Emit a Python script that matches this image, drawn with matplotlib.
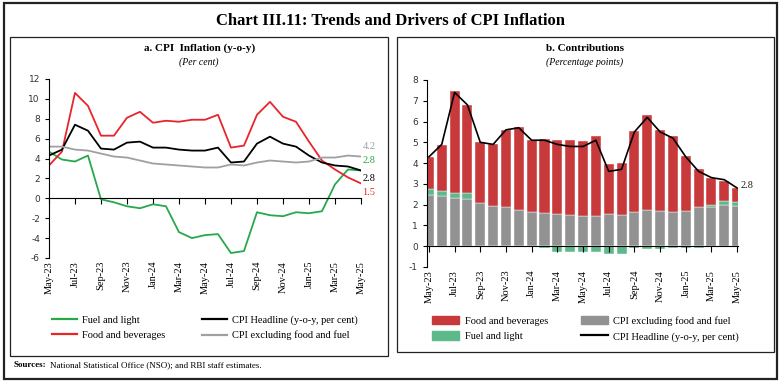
import numpy as np
import pandas as pd
import matplotlib
matplotlib.use('Agg')
import matplotlib.pyplot as plt
from matplotlib.patches import Rectangle, Patch
from matplotlib.lines import Line2D

plt.rcParams['font.family'] = ['Liberation Serif', 'DejaVu Serif']
plt.rcParams['axes.unicode_minus'] = False

months = pd.date_range('2023-05-01', periods=25, freq='MS').strftime('%b-%y').tolist()

# panel a: y-o-y inflation, per cent
fuel = [4.7, 3.9, 3.7, 4.3, -0.1, -0.4, -0.8, -1.0, -0.6, -0.8, -3.4, -4.0, -3.7,
        -3.6, -5.5, -5.3, -1.4, -1.7, -1.8, -1.4, -1.5, -1.3, 1.4, 2.9, 2.8]
food = [3.3, 4.7, 10.6, 9.3, 6.3, 6.3, 8.1, 8.7, 7.6, 7.8, 7.7, 7.9, 7.9,
        8.4, 5.1, 5.3, 8.4, 9.7, 8.2, 7.7, 5.7, 3.8, 2.9, 2.1, 1.5]
headline = [4.3, 4.9, 7.4, 6.8, 5.0, 4.9, 5.6, 5.7, 5.1, 5.1, 4.9, 4.8, 4.8,
            5.1, 3.6, 3.7, 5.5, 6.2, 5.5, 5.2, 4.3, 3.6, 3.3, 3.2, 2.8]
core = [5.2, 5.2, 4.9, 4.8, 4.5, 4.2, 4.1, 3.8, 3.5, 3.4, 3.3, 3.2, 3.1,
        3.1, 3.4, 3.3, 3.6, 3.8, 3.7, 3.6, 3.7, 4.1, 4.1, 4.3, 4.2]

# panel b: contributions, percentage points
c_core = [2.45, 2.4, 2.3, 2.25, 2.1, 1.95, 1.9, 1.75, 1.65, 1.6, 1.55, 1.5, 1.45,
          1.45, 1.55, 1.5, 1.65, 1.75, 1.7, 1.65, 1.7, 1.9, 1.9, 2.0, 1.92]
c_fuel = [0.3, 0.25, 0.25, 0.3, -0.02, -0.03, -0.05, -0.06, -0.04, -0.1, -0.27, -0.3, -0.27,
          -0.27, -0.38, -0.36, -0.1, -0.12, -0.13, -0.1, -0.1, -0.09, 0.1, 0.17, 0.2]
c_food = [1.55, 2.2, 4.9, 4.25, 2.9, 2.95, 3.7, 4.0, 3.45, 3.55, 3.55, 3.6, 3.6,
          3.85, 2.4, 2.5, 3.9, 4.55, 3.9, 3.65, 2.65, 1.8, 1.3, 0.98, 0.7]

x = np.arange(len(months))

RED = '#e8252b'
GREEN = '#27a84a'
GREY = '#a0a0a0'
BAR_RED = '#c8393c'
BAR_GREY = '#929292'
BAR_GREEN = '#5bb98a'

fig = plt.figure(figsize=(7.81, 3.83), dpi=100)

# frames
fig.patches.append(Rectangle((0.005, 0.01), 0.99, 0.982, transform=fig.transFigure,
                             fill=False, lw=1.6, ec='#222222'))
fig.patches.append(Rectangle((0.0128, 0.0705), 0.484, 0.833, transform=fig.transFigure,
                             fill=False, lw=0.9, ec='#222222'))
fig.patches.append(Rectangle((0.5083, 0.081), 0.4827, 0.822, transform=fig.transFigure,
                             fill=False, lw=0.9, ec='#222222'))

fig.text(0.5, 0.945, 'Chart III.11: Trends and Drivers of CPI Inflation',
         ha='center', va='center', fontsize=12, fontweight='bold')


def style_axis(ax, ylim, yticks):
    ax.set_ylim(*ylim)
    ax.set_yticks(yticks)
    for s in ['top', 'right']:
        ax.spines[s].set_visible(False)
    ax.spines['left'].set_linewidth(0.8)
    ax.spines['bottom'].set_position(('data', 0))
    ax.spines['bottom'].set_linewidth(0.8)
    ax.set_xticks(x[::2])
    ax.tick_params(axis='x', labelbottom=False, direction='out', length=4, width=0.8)
    ax.tick_params(axis='y', direction='out', length=3, width=0.8, labelsize=6.5)
    for t in ax.get_yticklabels():
        t.set_family('DejaVu Sans')
        t.set_color('#333333')
    sec = ax.secondary_xaxis('bottom')
    sec.set_xticks(x[::2], labels=months[::2], rotation=90)
    sec.tick_params(length=0, labelsize=7.5, pad=2)
    sec.spines['bottom'].set_visible(False)


# panel a
ax1 = fig.add_axes([0.0627, 0.3264, 0.3995, 0.4674])
ax1.plot(x, fuel, color=GREEN, lw=1.3)
ax1.plot(x, food, color=RED, lw=1.3)
ax1.plot(x, headline, color='black', lw=1.3)
ax1.plot(x, core, color=GREY, lw=1.3)
ax1.set_xlim(0, 24)
style_axis(ax1, (-6, 12), range(-6, 13, 2))
ax1.text(x[-1] + 0.1, core[-1] + 1.0, f'{core[-1]:.1f}', color=GREY, fontsize=7.5, va='center', clip_on=False)
ax1.text(x[-1] + 0.1, fuel[-1] + 1.0, f'{fuel[-1]:.1f}', color=GREEN, fontsize=7.5, va='center', clip_on=False)
ax1.text(x[-1] + 0.1, headline[-1] - 0.8, f'{headline[-1]:.1f}', color='black', fontsize=7.5, va='center', clip_on=False)
ax1.text(x[-1] + 0.1, food[-1] - 0.9, f'{food[-1]:.1f}', color=RED, fontsize=7.5, va='center', clip_on=False)

fig.text(0.255, 0.874, 'a. CPI  Inflation (y-o-y)', ha='center', va='center', fontsize=8, fontweight='bold')
fig.text(0.255, 0.838, '(Per cent)', ha='center', va='center', fontsize=7, style='italic')

h1 = [Line2D([], [], color=GREEN, lw=1.6), Line2D([], [], color=RED, lw=1.6),
      Line2D([], [], color='black', lw=1.6), Line2D([], [], color=GREY, lw=1.6)]
l1 = ['Fuel and light', 'Food and beverages', 'CPI Headline (y-o-y, per cent)',
      'CPI excluding food and fuel']
fig.legend(h1, l1, loc='center', bbox_to_anchor=(0.262, 0.144), ncol=2, frameon=False,
           fontsize=7.5, handlelength=2.4, columnspacing=3.5, labelspacing=0.55, handletextpad=0.5)

# panel b
ax2 = fig.add_axes([0.5467, 0.3029, 0.398, 0.4883])
c_core_a = np.array(c_core)
c_fuel_a = np.array(c_fuel)
fuel_pos = np.where(c_fuel_a > 0, c_fuel_a, 0)
ax2.bar(x, c_core, width=0.78, color=BAR_GREY, edgecolor='white', lw=0.3)
ax2.bar(x, c_fuel, width=0.78, bottom=np.where(c_fuel_a > 0, c_core_a, 0),
        color=BAR_GREEN, edgecolor='white', lw=0.3)
ax2.bar(x, c_food, width=0.78, bottom=c_core_a + fuel_pos, color=BAR_RED, edgecolor='white', lw=0.3)
ax2.plot(x, headline, color='black', lw=1.2)
ax2.set_xlim(-0.15, 24.05)
style_axis(ax2, (-1, 8), range(-1, 9))
ax2.text(x[-1] + 0.3, headline[-1] + 0.1, f'{headline[-1]:.1f}', color='#222222', fontsize=7.5,
         va='center', clip_on=False)

fig.text(0.749, 0.874, 'b. Contributions', ha='center', va='center', fontsize=8, fontweight='bold')
fig.text(0.749, 0.838, '(Percentage points)', ha='center', va='center', fontsize=7, style='italic')

h2 = [Patch(color=BAR_RED), Patch(color=BAR_GREEN), Patch(color=BAR_GREY),
      Line2D([], [], color='black', lw=1.6)]
l2 = ['Food and beverages', 'Fuel and light', 'CPI excluding food and fuel',
      'CPI Headline (y-o-y, per cent)']
fig.legend(h2, l2, loc='center', bbox_to_anchor=(0.75, 0.142), ncol=2, frameon=False,
           fontsize=7.5, handlelength=2.6, handleheight=0.9, columnspacing=3.2,
           labelspacing=0.55, handletextpad=0.5)

# sources line: bold label followed by plain text
src = fig.text(0.018, 0.047, 'Sources:', fontsize=6.5, va='center', fontweight='bold')
fig.canvas.draw()
bb = src.get_window_extent().transformed(fig.transFigure.inverted())
fig.text(bb.x1 + 0.004, 0.047, 'National Statistical Office (NSO); and RBI staff estimates.',
         fontsize=6.5, va='center')

fig.savefig('out.png', dpi=100)
